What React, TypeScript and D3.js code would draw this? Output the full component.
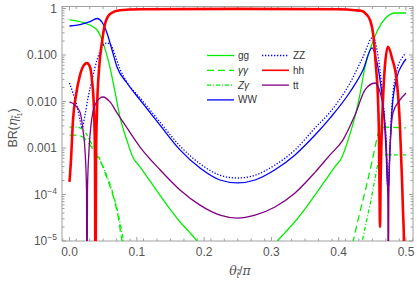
import * as d3 from "d3";

// theta/pi and BR pairs
const gg: [number, number][] = [
  [0, 0.57], [0.02, 0.5], [0.041, 0.345], [0.05, 0.18], [0.06, 0.055], [0.068, 0.0152],
  [0.075, 0.0046], [0.085, 0.0015], [0.094, 6.4e-4], [0.105, 3.9e-4], [0.134, 9.8e-5],
  [0.164, 2.6e-5], [0.179, 1.5e-5], [0.191, 9.5e-6], [0.2, 6e-6], [0.25, 2e-6],
  [0.3, 6e-6], [0.308, 9.5e-6], [0.32, 1.5e-5], [0.335, 2.6e-5], [0.365, 9.8e-5],
  [0.394, 3.9e-4], [0.405, 6.4e-4], [0.414, 0.0015], [0.424, 0.0046], [0.432, 0.0152],
  [0.439, 0.055], [0.45, 0.18], [0.458, 0.345], [0.469, 0.61], [0.484, 0.8], [0.5, 0.8],
];

const aa: [number, number][] = [
  [0, 0.0019], [0.01, 0.0019], [0.02, 0.0017], [0.03, 0.0012], [0.04, 7e-4], [0.048, 4.4e-4],
  [0.056, 2.2e-4], [0.065, 9e-5], [0.072, 3.5e-5], [0.078, 1e-5], [0.085, 4e-6],
  [0.25, 1e-8], [0.415, 4e-6], [0.4212, 9.5e-6], [0.43, 3.4e-5], [0.44, 1.3e-4],
  [0.45, 5.5e-4], [0.456, 0.0014], [0.4614, 0.0027], [0.47, 0.0028], [0.5, 0.0027],
];

const za: [number, number][] = [
  [0, 0.0028], [0.01, 0.0028], [0.018, 0.0026], [0.025, 0.002], [0.032, 0.0013],
  [0.04, 8e-4], [0.048, 4.6e-4], [0.056, 2.4e-4], [0.065, 1e-4], [0.072, 4e-5],
  [0.0805, 1e-5], [0.087, 4e-6], [0.25, 1e-8], [0.428, 4e-6], [0.4346, 9.5e-6],
  [0.4406, 2.4e-5], [0.4465, 6e-5], [0.4525, 1.7e-4], [0.4584, 4.6e-4], [0.4614, 6.4e-4],
  [0.4658, 7.1e-4], [0.5, 7.1e-4],
];

const ww: [number, number][] = [
  [0, 0.42], [0.0156, 0.45], [0.0305, 0.52], [0.0409, 0.61], [0.0483, 0.51], [0.0557, 0.297],
  [0.0632, 0.128], [0.0706, 0.055], [0.0854, 0.025], [0.1048, 0.0108], [0.1345, 0.0031],
  [0.1642, 9.1e-4], [0.1939, 3.7e-4], [0.2236, 2.05e-4], [0.25, 1.77e-4], [0.2756, 2.05e-4],
  [0.3053, 3.4e-4], [0.3351, 7.1e-4], [0.3648, 0.0019], [0.3871, 0.0044], [0.4168, 0.016],
  [0.4361, 0.0475], [0.4495, 0.142], [0.4554, 0.086], [0.4614, 0.029], [0.4673, 0.0051],
  [0.4703, 9.1e-4], [0.4733, 1.08e-4], [0.4762, 9.1e-4], [0.4792, 0.0066], [0.4866, 0.0337],
  [0.4941, 0.061], [0.5, 0.082],
];

const zz: [number, number][] = [
  [0, 0.025], [0.0052, 0.0152], [0.0111, 0.008], [0.0156, 0.004], [0.0186, 0.0027],
  [0.023, 0.0051], [0.0275, 0.0119], [0.0334, 0.029], [0.0409, 0.078], [0.0483, 0.149],
  [0.0557, 0.181], [0.062, 0.16], [0.0676, 0.1], [0.075, 0.05], [0.0854, 0.026],
  [0.1048, 0.012], [0.1345, 0.0036], [0.1642, 0.0011], [0.1939, 4.6e-4], [0.2236, 2.6e-4],
  [0.25, 2.26e-4], [0.2756, 2.6e-4], [0.3053, 4.3e-4], [0.3351, 9.1e-4], [0.3648, 0.0027],
  [0.3871, 0.0059], [0.4168, 0.025], [0.4361, 0.0906], [0.451, 0.244], [0.4569, 0.128],
  [0.4614, 0.0475], [0.4658, 0.0108], [0.4703, 0.0015], [0.4733, 1.25e-4], [0.4762, 0.00116],
  [0.4792, 0.0084], [0.4866, 0.0475], [0.4941, 0.086], [0.5, 0.11],
];

const hh: [number, number][] = [
  [0, 1.86e-4], [0.0022, 5.5e-4], [0.0052, 0.004], [0.0097, 0.0138], [0.0156, 0.037],
  [0.0215, 0.061], [0.026, 0.067], [0.0305, 0.055], [0.0334, 0.029], [0.0364, 0.0066],
  [0.0379, 5.5e-4], [0.0386, 1e-7], [0.0394, 5.5e-4], [0.0409, 0.0066], [0.0438, 0.0475],
  [0.0483, 0.19], [0.0527, 0.46], [0.0602, 0.76], [0.075, 0.92], [0.105, 0.96],
  [0.25, 0.98], [0.4, 0.96], [0.424, 0.92], [0.4346, 0.88], [0.4406, 0.76],
  [0.4465, 0.566], [0.451, 0.297], [0.4554, 0.055], [0.4584, 0.0108], [0.4599, 0.0015],
  [0.4608, 7.6e-5], [0.4614, 2e-5], [0.4623, 2e-4], [0.4636, 0.0015], [0.4658, 0.0108],
  [0.4688, 0.061], [0.4733, 0.15], [0.4792, 0.086], [0.4866, 0.025], [0.4911, 0.0028],
  [0.4941, 2e-4], [0.4955, 4.6e-5], [0.497, 9.5e-6], [0.4985, 1e-7],
];

const tt: [number, number][] = [
  [0, 0.0098], [0.0082, 0.0084], [0.0156, 0.0059], [0.0201, 0.0024], [0.023, 9.1e-4],
  [0.0253, 1.25e-4], [0.026, 1e-7], [0.0267, 1.25e-4], [0.029, 9.1e-4], [0.0319, 0.0031],
  [0.0379, 0.0084], [0.0453, 0.0119], [0.0498, 0.0125], [0.0602, 0.0098], [0.0706, 0.0057],
  [0.0854, 0.0027], [0.1048, 0.00105], [0.1345, 3.4e-4], [0.1642, 1.25e-4], [0.1939, 5.9e-5],
  [0.2236, 3.6e-5], [0.25, 3.1e-5], [0.2756, 3.6e-5], [0.3053, 5.4e-5], [0.3351, 1.08e-4],
  [0.3648, 3e-4], [0.3871, 7.1e-4], [0.4064, 0.0015], [0.4242, 0.0051], [0.4391, 0.0177],
  [0.4539, 0.025], [0.4614, 0.0159], [0.4673, 0.0051], [0.471, 9.1e-4], [0.473, 7.6e-5],
  [0.4737, 1e-7], [0.4744, 7.6e-5], [0.4762, 9.1e-4], [0.4807, 0.0057], [0.4911, 0.0108],
  [0.5, 0.0152],
];

const xTicks = [0, 0.1, 0.2, 0.3, 0.4, 0.5];
const xTickLabels = ["0.0", "0.1", "0.2", "0.3", "0.4", "0.5"];
const yTicks = [1, 0.1, 0.01, 0.001, 1e-4, 1e-5];
const yTickLabels = ["1", "0.100", "0.010", "0.001", "-4", "-5"];

const series = [
  { name: "gg", data: gg, color: "#00ee00", width: 1.3, dash: "", col: 0, row: 0 },
  { name: "γγ", data: aa, color: "#00ee00", width: 1.3, dash: "7,4", col: 0, row: 1 },
  { name: "Zγ", data: za, color: "#00ee00", width: 1.3, dash: "4,2,1,2", col: 0, row: 2 },
  { name: "WW", data: ww, color: "#0000ff", width: 1.3, dash: "", col: 0, row: 3 },
  { name: "ZZ", data: zz, color: "#0000ff", width: 1.3, dash: "1.3,1.7", col: 1, row: 0 },
  { name: "hh", data: hh, color: "#ff0000", width: 2.6, dash: "", col: 1, row: 1 },
  { name: "tt", data: tt, color: "#800080", width: 1.3, dash: "", col: 1, row: 2 },
];

const frame = { left: 62, right: 413, top: 6.5, bottom: 241 };

export default function App() {
  const x = d3.scaleLinear().domain([0, 0.5]).range([69.5, 406]);
  const y = d3.scaleLog().domain([1e-5, 1]).range([241, 8.5]);

  const line = d3
    .line<[number, number]>()
    .x((d) => x(d[0]))
    .y((d) => y(d[1]))
    .curve(d3.curveMonotoneX);

  // minor ticks
  const xMinor = d3.range(-0.01, 0.511, 0.02).filter((v) => Math.abs((v * 10) % 1) > 1e-6);
  const yMinor: number[] = [];
  for (let k = -5; k < 0; k++) for (let m = 2; m <= 9; m++) yMinor.push(m * Math.pow(10, k));

  const tickColor = "#a0a0a0";
  const labelColor = "#555";
  const font = "'Liberation Sans', Arial, sans-serif";

  return (
    <svg width={417} height={286} style={{ position: "absolute", left: 0, top: 0 }} fontFamily={font}>
      <rect width={417} height={286} fill="white" />
      <defs>
        <clipPath id="plot">
          <rect x={frame.left} y={frame.top} width={frame.right - frame.left} height={frame.bottom - frame.top} />
        </clipPath>
      </defs>

      {/* frame */}
      <rect
        x={frame.left}
        y={frame.top}
        width={frame.right - frame.left}
        height={frame.bottom - frame.top}
        fill="none"
        stroke={tickColor}
        strokeWidth={1}
      />

      {/* x ticks */}
      {xTicks.map((v) => (
        <g key={"xt" + v}>
          <line x1={x(v)} x2={x(v)} y1={frame.bottom} y2={frame.bottom - 4} stroke={tickColor} />
          <line x1={x(v)} x2={x(v)} y1={frame.top} y2={frame.top + 4} stroke={tickColor} />
        </g>
      ))}
      {xMinor.map((v) => (
        <g key={"xm" + v}>
          <line x1={x(v)} x2={x(v)} y1={frame.bottom} y2={frame.bottom - 2.5} stroke={tickColor} />
          <line x1={x(v)} x2={x(v)} y1={frame.top} y2={frame.top + 2.5} stroke={tickColor} />
        </g>
      ))}
      {xTicks.map((v, i) => (
        <text key={"xl" + v} x={x(v)} y={256} textAnchor="middle" fontSize={12} fill={labelColor}>
          {xTickLabels[i]}
        </text>
      ))}

      {/* y ticks */}
      {yTicks.map((v) => (
        <g key={"yt" + v}>
          <line x1={frame.left} x2={frame.left + 4} y1={y(v)} y2={y(v)} stroke={tickColor} />
          <line x1={frame.right} x2={frame.right - 4} y1={y(v)} y2={y(v)} stroke={tickColor} />
        </g>
      ))}
      {yMinor.map((v) => (
        <g key={"ym" + v}>
          <line x1={frame.left} x2={frame.left + 2.5} y1={y(v)} y2={y(v)} stroke={tickColor} />
          <line x1={frame.right} x2={frame.right - 2.5} y1={y(v)} y2={y(v)} stroke={tickColor} />
        </g>
      ))}
      {yTicks.map((v, i) =>
        v >= 0.001 ? (
          <text key={"yl" + v} x={57} y={y(v) + 4.2} textAnchor="end" fontSize={12} fill={labelColor}>
            {yTickLabels[i]}
          </text>
        ) : (
          <text key={"yl" + v} x={57} y={y(v) + 4.2} textAnchor="end" fontSize={12} fill={labelColor}>
            10
            <tspan dy={-5} fontSize={8.5}>
              {yTickLabels[i].replace("-", "\u2212")}
            </tspan>
          </text>
        )
      )}

      {/* axis labels */}
      <text
        transform="translate(17,128) rotate(-90)"
        textAnchor="middle"
        fontSize={12.5}
        fill={labelColor}
      >
        BR(
        <tspan fontStyle="italic" fontFamily="'DejaVu Serif', serif">η</tspan>
        <tspan dy={3} fontSize={8.5} fontStyle="italic">t̃</tspan>
        <tspan dy={2} fontSize={6.5}>1</tspan>
        <tspan dy={-5}>)</tspan>
      </text>
      <text x={240} y={275} textAnchor="middle" fontSize={12.5} fill={labelColor}>
        <tspan fontStyle="italic" fontFamily="'DejaVu Serif', serif">θ</tspan>
        <tspan dy={3} fontSize={8.5} fontStyle="italic">t̃</tspan>
        <tspan dy={-3}>/</tspan>
        <tspan fontStyle="italic" fontFamily="'DejaVu Serif', serif">π</tspan>
      </text>

      {/* curves */}
      <g clipPath="url(#plot)">
        {series.map((s) => (
          <path
            key={s.name}
            d={line(s.data) || ""}
            fill="none"
            stroke={s.color}
            strokeWidth={s.width}
            strokeDasharray={s.dash || undefined}
            strokeLinejoin="round"
          />
        ))}
      </g>

      {/* legend */}
      {series.map((s) => {
        const lx = s.col === 0 ? 207 : 262;
        const ly = 55.5 + s.row * 14.8;
        return (
          <g key={"lg" + s.name}>
            <line
              x1={lx}
              x2={lx + 27}
              y1={ly}
              y2={ly}
              stroke={s.color}
              strokeWidth={s.name === "hh" ? 1.6 : s.width}
              strokeDasharray={s.dash || undefined}
            />
            <text x={lx + 31} y={ly + 3.5} fontSize={10} fill="#333" fontStyle={s.name.includes("γ") ? "italic" : "normal"}>
              {s.name}
            </text>
          </g>
        );
      })}
    </svg>
  );
}
